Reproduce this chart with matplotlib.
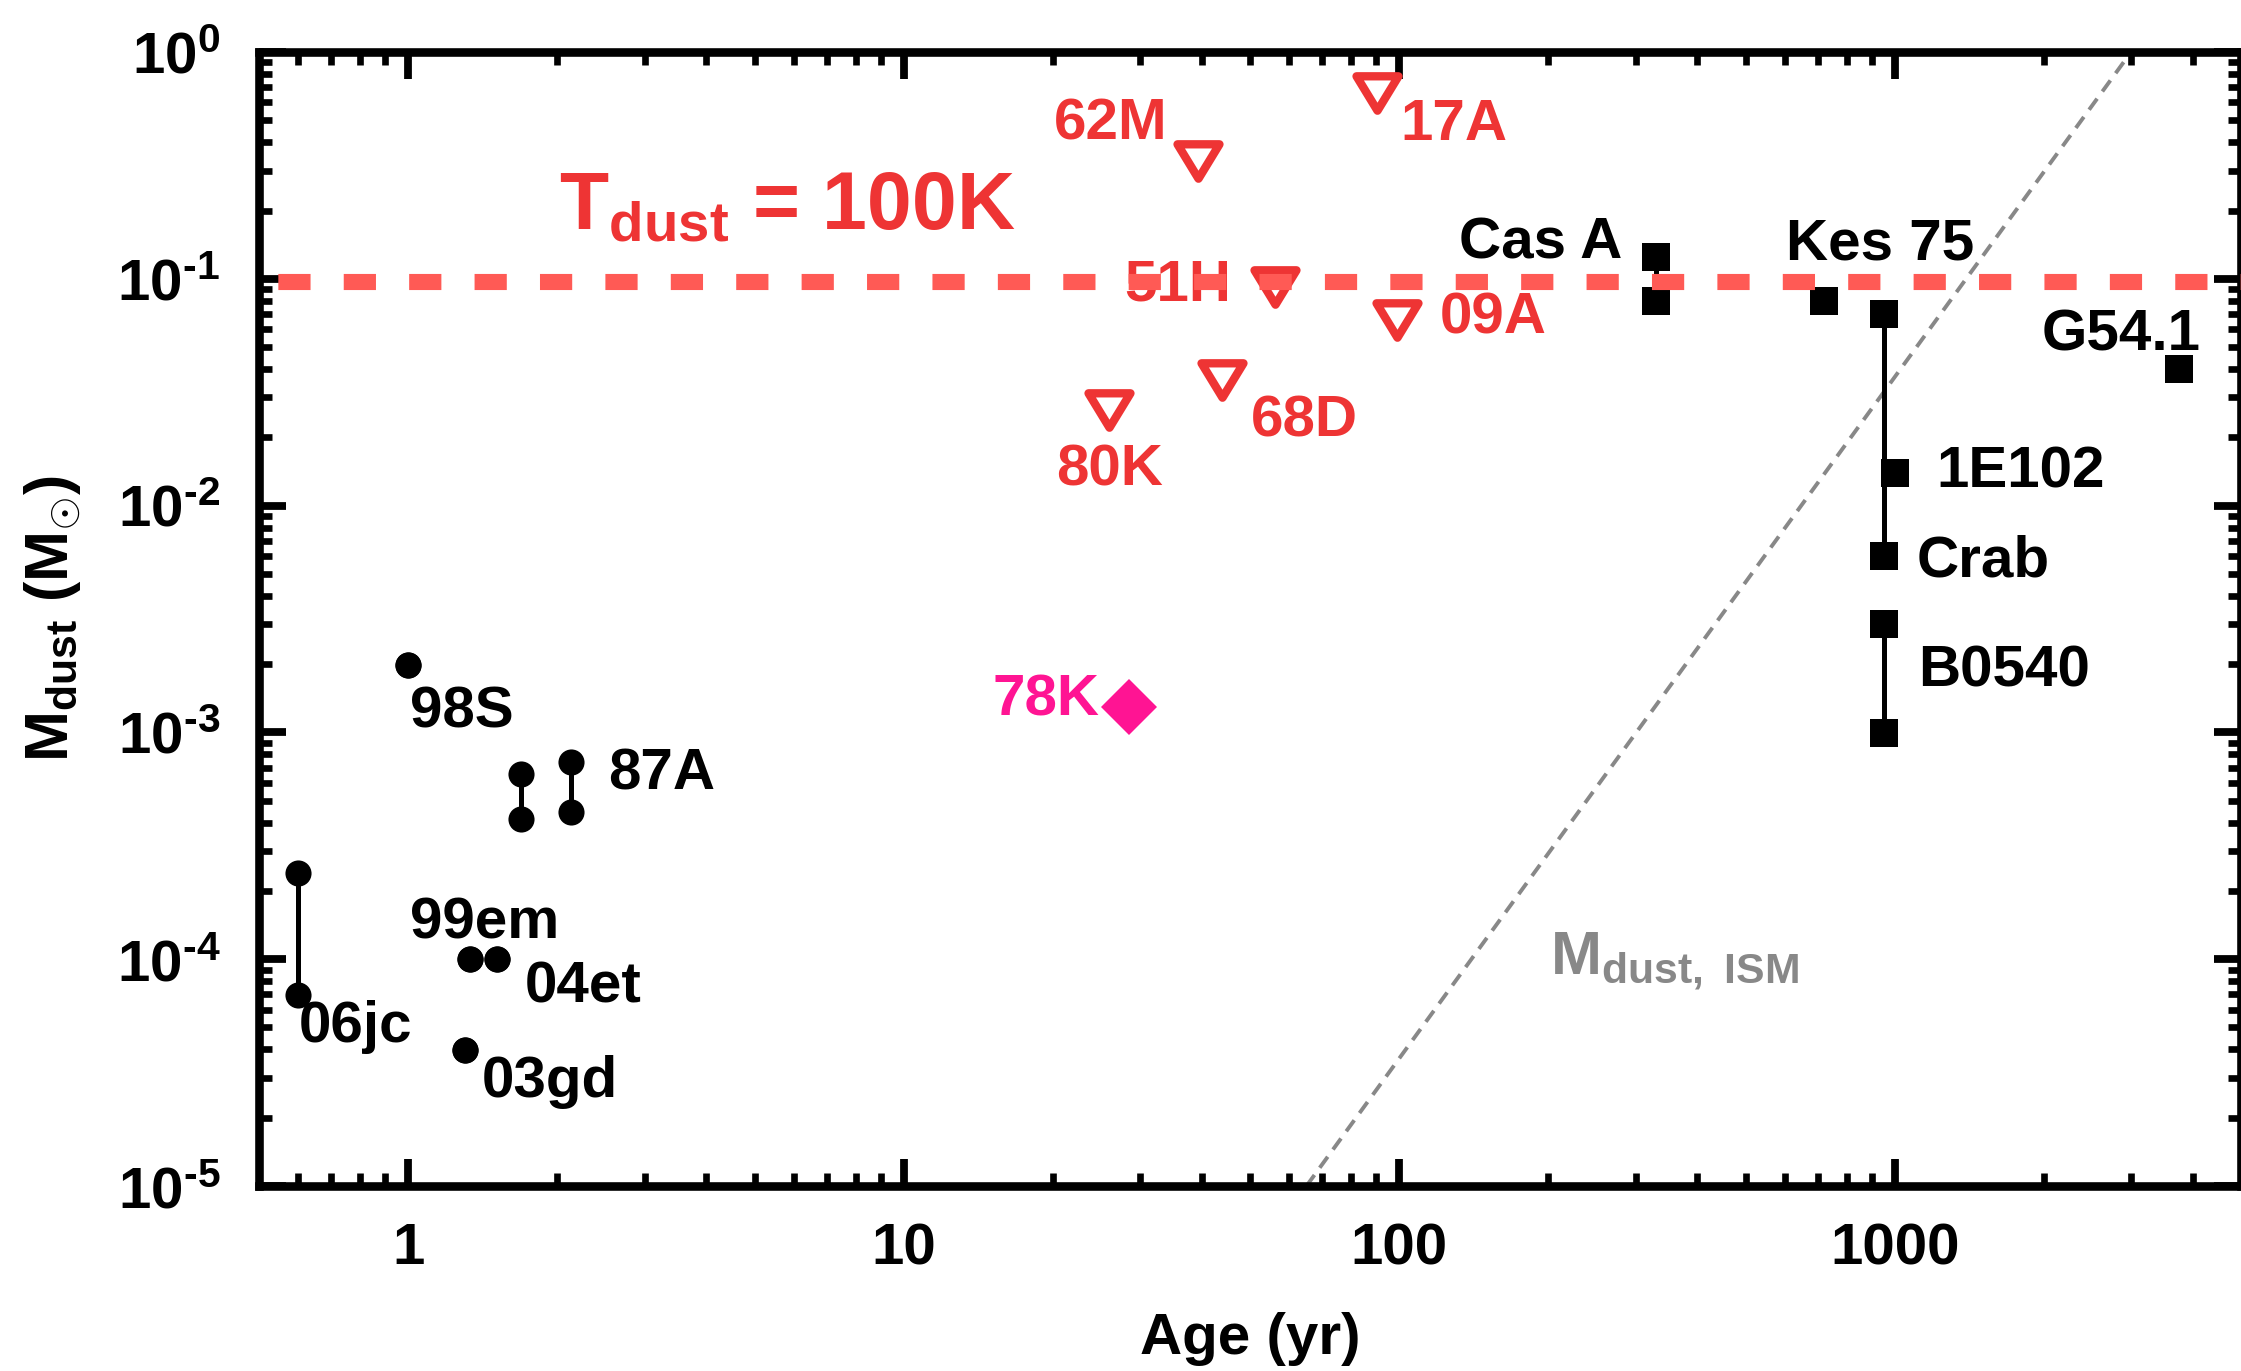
import numpy as np
import matplotlib.pyplot as plt
from matplotlib.path import Path
from matplotlib.ticker import FixedLocator, LogLocator, NullFormatter

plt.rcParams['font.family'] = 'Liberation Sans'
plt.rcParams['font.weight'] = 'bold'
plt.rcParams['mathtext.fontset'] = 'custom'
plt.rcParams['mathtext.rm'] = 'Liberation Sans:bold'
plt.rcParams['mathtext.it'] = 'Liberation Sans:bold'
plt.rcParams['mathtext.bf'] = 'Liberation Sans:bold'
plt.rcParams['mathtext.sf'] = 'Liberation Sans:bold'
plt.rcParams['mathtext.default'] = 'rm'

# supernovae (cercles), paires = intervalle de masse
sn_names = ['98S', '87A', '87A', '99em', '04et', '03gd', '06jc']
sn_age = [1.0, 1.69, 2.13, 1.33, 1.51, 1.30, 0.60]
sn_mass_hi = [0.00198, 0.000656, 0.00074, 1.0e-4, 1.0e-4, 3.98e-5, 2.4e-4]
sn_mass_lo = [0.00198, 0.000416, 0.000446, 1.0e-4, 1.0e-4, 3.98e-5, 6.95e-5]

# restes de supernova (carrés)
snr_names = ['Cas A', 'Kes 75', 'Crab', '1E102', 'B0540', 'G54.1']
snr_age = [330, 719, 950, 1000, 950, 3749]
snr_mass_hi = [0.125, 0.0798, 0.070, 0.0139, 0.0030, 0.0399]
snr_mass_lo = [0.0798, 0.0798, 0.006, 0.0139, 0.00099, 0.0399]

# limites supérieures (triangles rouges)
ul_names = ['62M', '17A', '51H', '09A', '68D', '80K']
ul_age = [39.2, 90.1, 56.2, 99.1, 44.0, 26.0]
ul_mass = [0.331, 0.657, 0.092, 0.066, 0.0358, 0.0265]

# 78K
k78_age = [28.5]
k78_mass = [0.0013]

# droite M_dust,ISM et niveau T_dust = 100K
ism_age = [65, 3000]
ism_mass = [1e-5, 1.0]
t100_level = 0.097

x_ticks = [1, 10, 100, 1000]
x_ticklabels = ['1', '10', '100', '1000']
y_exponents = [-5, -4, -3, -2, -1, 0]

# décalages des étiquettes (points), point d'ancrage 'hi' ou 'lo'
sn_offsets = [(19.3, -22.3, 'hi'), (None, None, 'hi'), (32.6, -9.7, 'hi'),
              (5.4, 7.3, 'hi'), (31.0, -15.7, 'hi'), (30.6, -17.0, 'hi'),
              (20.7, -17.0, 'lo')]
snr_offsets = [(-41.6, -0.7, 'hi'), (20.5, 14.9, 'hi'), (36.0, -7.4, 'lo'),
               (45.4, -5.0, 'hi'), (43.2, -22.3, 'hi'), (-20.9, 6.6, 'hi')]
ul_offsets = [(-31.3, 7.6), (27.9, -16.8), (-34.9, -4.7),
              (34.6, -4.8), (29.5, -20.2), (0.0, -27.5)]

red = '#ee3434'
pink = '#ff1493'
gray = '#888888'

fig = plt.figure(figsize=(11.205, 6.855), dpi=200)
ax = fig.add_axes([259 / 2241, 1 - 1186 / 1371, (2241 - 259) / 2241, (1186 - 52) / 1371])
ax.set_xscale('log')
ax.set_yscale('log')
ax.set_xlim(0.5, 5000)
ax.set_ylim(1e-5, 1)

# traits entre les bornes
for a, lo, hi in zip(sn_age + snr_age, sn_mass_lo + snr_mass_lo, sn_mass_hi + snr_mass_hi):
    if lo != hi:
        ax.plot([a, a], [lo, hi], color='k', lw=1.8, zorder=2)

ax.plot(sn_age + sn_age, sn_mass_hi + sn_mass_lo, 'o', color='k', ms=9.4, mew=0, zorder=3)
ax.plot(snr_age + snr_age, snr_mass_hi + snr_mass_lo, 's', color='k', ms=9.9, mew=0, zorder=3)

# triangle pointe en bas, un peu plus large que haut
tri = Path([(-1, 0.82), (1, 0.82), (0, -0.82), (-1, 0.82)],
           [Path.MOVETO, Path.LINETO, Path.LINETO, Path.CLOSEPOLY])
ax.plot(ul_age, ul_mass, linestyle='none', marker=tri, ms=15.1, mfc='none',
        mec=red, mew=3.0, zorder=3)
ax.plot(k78_age, k78_mass, 'D', color=pink, ms=14.3, mew=0, zorder=3)

ax.plot(ism_age, ism_mass, color=gray, lw=1.4, linestyle=(0, (3.5, 2.3)), zorder=1)
ax.axhline(t100_level, color='#ff5a55', lw=5.8, linestyle=(2.86, (2.0, 2.06)), zorder=10)

txt = dict(textcoords='offset points', ha='center', va='baseline', fontsize=21,
           fontweight='bold')
for name, a, lo, hi, off in zip(sn_names, sn_age, sn_mass_lo, sn_mass_hi, sn_offsets):
    if off[0] is None:
        continue
    ax.annotate(name, (a, hi if off[2] == 'hi' else lo), xytext=off[:2], color='k', **txt)
for name, a, lo, hi, off in zip(snr_names, snr_age, snr_mass_lo, snr_mass_hi, snr_offsets):
    ax.annotate(name, (a, hi if off[2] == 'hi' else lo), xytext=off[:2], color='k', **txt)
for name, a, m, off in zip(ul_names, ul_age, ul_mass, ul_offsets):
    ax.annotate(name, (a, m), xytext=off, color=red, **txt)
ax.annotate('78K', (k78_age[0], k78_mass[0]), xytext=(-30, -3.2), color=pink, **txt)

ax.text(2.02, 0.164, r'T$_{dust}$ = 100K', color=red, fontsize=29, ha='left', va='baseline')
ax.text(202, 8.6e-5, r'M$_{dust,\ ISM}$', color=gray, fontsize=22, ha='left', va='baseline')

# axes
ax.xaxis.set_major_locator(FixedLocator(x_ticks))
ax.set_xticklabels(x_ticklabels)
ax.xaxis.set_minor_locator(LogLocator(base=10, subs=np.arange(2, 10), numticks=20))
ax.xaxis.set_minor_formatter(NullFormatter())
ax.yaxis.set_major_locator(FixedLocator([10.0 ** e for e in y_exponents]))
ax.set_yticklabels([r'$10^{%s}$' % str(e).replace('-', '\u2010') for e in y_exponents])
ax.yaxis.set_minor_locator(LogLocator(base=10, subs=np.arange(2, 10), numticks=20))
ax.yaxis.set_minor_formatter(NullFormatter())

ax.tick_params(which='both', direction='in', top=True, right=True)
ax.tick_params(which='major', length=9.7, width=2.8, labelsize=21)
ax.tick_params(which='minor', length=4.7, width=2.4)
ax.tick_params(axis='x', which='major', pad=13)
ax.tick_params(axis='y', which='major', pad=14)
for s in ax.spines.values():
    s.set_linewidth(3.1)

ax.set_xlabel('Age (yr)', fontsize=21, fontweight='bold')
ax.xaxis.set_label_coords(0.5, -0.111)
ax.set_ylabel(r'M$_{dust}$ (M$_{\odot}$)', fontsize=22, fontweight='bold')
ax.yaxis.set_label_coords(-0.0888, 0.5)

fig.savefig('out.png', dpi=200)
